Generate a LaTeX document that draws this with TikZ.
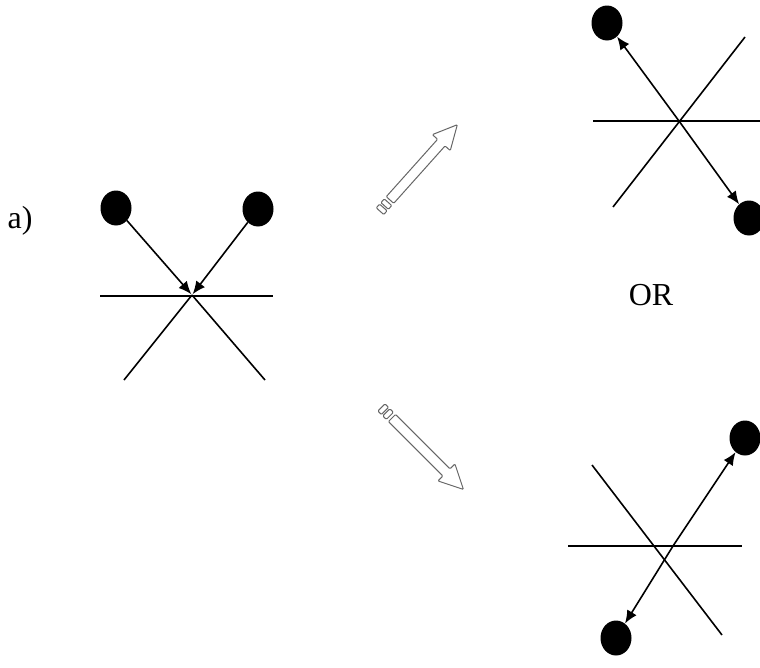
\documentclass[tikz,border=0pt]{standalone}
\usepackage{fontspec}
\setmainfont{Liberation Serif}
\usetikzlibrary{arrows.meta,shapes.geometric}
\begin{document}
\begin{tikzpicture}[x=1pt,y=-1pt,
  ball/.style={ellipse, fill=black, minimum width=31pt, minimum height=35pt, inner sep=0pt},
  axis/.style={line width=1.6pt},
  ptr/.style={line width=1.6pt, -{Latex[length=13pt,width=11pt]}},
  hollow/.style={draw=black!60, line width=1pt, fill=white, rounded corners=1pt},
  lbl/.style={font=\fontsize{32}{36}\selectfont, inner sep=0pt},
  hollowarrow/.pic={
    \draw[hollow] (0,-5) -- (77,-5) -- (77,-12) -- (101,0) -- (77,12) -- (77,5) -- (0,5) -- cycle;
    \draw[hollow] (-8,-5) rectangle (-3,5);
    \draw[hollow] (-15,-5) rectangle (-10,5);
  }]
\useasboundingbox (0,0) rectangle (760,667);

% labels
\node[lbl] (a) at (20,221) {a)};
\node[lbl] (or) at (651,295) {OR};

% left figure
\node[ball] (L1) at (116,208) {};
\node[ball] (L2) at (258,209) {};
\coordinate (LC) at (192,295);
\coordinate (LA) at (265,380);
\coordinate (LB) at (124,380);
\coordinate (LH1) at (100,296);
\coordinate (LH2) at (273,296);
\draw[axis] (LH1) -- (LH2);
\draw[axis] (LC) -- (LA);
\draw[axis] (LC) -- (LB);
\draw[ptr, shorten >=1pt] (L1) -- (LC);
\draw[ptr, shorten >=1pt] (L2) -- (LC);

% hollow arrows
\pic[rotate=48.2] (up) at (390,200) {hollowarrow};
\pic[rotate=-45] (down) at (392,418) {hollowarrow};

% top-right figure
\node[ball] (T1) at (607,23) {};
\node[ball] (T2) at (749,218) {};
\coordinate (TC) at (679,121);
\coordinate (TH1) at (593,121);
\coordinate (TH2) at (760,121);
\coordinate (TD1) at (745,37);
\coordinate (TD2) at (613,207);
\draw[axis] (TH1) -- (TH2);
\draw[axis] (TD1) -- (TD2);
\draw[ptr] (TC) -- (T1);
\draw[ptr] (TC) -- (T2);

% bottom-right figure
\node[ball] (B1) at (745,438) {};
\node[ball] (B2) at (616,638) {};
\coordinate (BC) at (673,546);
\coordinate (BH1) at (568,546);
\coordinate (BH2) at (742,546);
\coordinate (BD1) at (592,465);
\coordinate (BD2) at (722,635);
\draw[axis] (BH1) -- (BH2);
\draw[axis] (BD1) -- (BD2);
\draw[ptr] (BC) -- (B1);
\draw[ptr] (BC) -- (B2);
\end{tikzpicture}
\end{document}
